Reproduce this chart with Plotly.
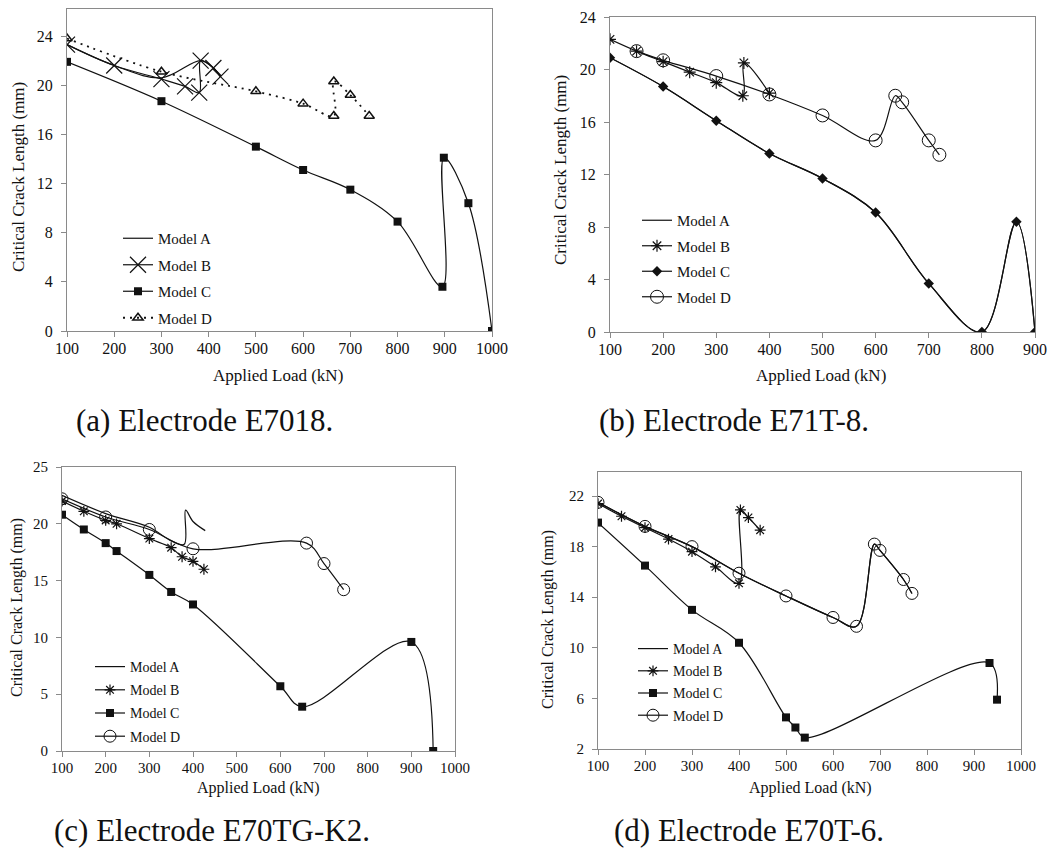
import plotly.graph_objects as go

FIG_W, FIG_H = 1057, 851
SERIF = "Liberation Serif"
INK = "#111111"
FRAME = "#8a8a8a"

# ---------------- (a) Electrode E7018 ----------------
a_load_A = [100, 200, 300, 383, 410, 425]
a_crack_A = [23.3, 21.6, 20.6, 22.0, 21.4, 20.7]
a_load_B = [100, 200, 300, 350, 380, 383, 410, 425]
a_crack_B = [23.3, 21.6, 20.5, 19.9, 19.4, 22.0, 21.4, 20.7]
a_load_C = [100, 300, 500, 600, 700, 800, 895, 898, 950, 1000]
a_crack_C = [21.9, 18.7, 15.0, 13.1, 11.5, 8.9, 3.6, 14.1, 10.4, 0.0]
a_load_D = [100, 300, 500, 600, 665, 665, 700, 740]
a_crack_D = [23.8, 21.1, 19.5, 18.5, 17.5, 20.3, 19.2, 17.5]

# ---------------- (b) Electrode E71T-8 ----------------
b_load_C = [100, 200, 300, 400, 500, 600, 700, 800, 865, 900]
b_crack_C = [20.9, 18.7, 16.1, 13.6, 11.7, 9.1, 3.7, 0.0, 8.4, 0.0]
b_load_A = b_load_C
b_crack_A = b_crack_C
b_load_B = [100, 150, 200, 250, 300, 350, 352, 400]
b_crack_B = [22.3, 21.4, 20.6, 19.8, 19.0, 18.0, 20.5, 18.2]
b_load_D = [150, 200, 300, 400, 500, 600, 637, 650, 700, 720]
b_crack_D = [21.4, 20.7, 19.5, 18.1, 16.5, 14.6, 18.0, 17.5, 14.6, 13.5]

# ---------------- (c) Electrode E70TG-K2 ----------------
c_load_A = [100, 200, 300, 350, 380, 383, 400, 428]
c_crack_A = [22.5, 20.9, 19.7, 18.5, 18.2, 21.2, 20.2, 19.4]
c_load_B = [100, 150, 200, 225, 300, 350, 375, 400, 425]
c_crack_B = [22.0, 21.1, 20.3, 20.0, 18.7, 17.9, 17.1, 16.7, 16.0]
c_load_C = [100, 150, 200, 225, 300, 350, 400, 600, 650, 900, 950]
c_crack_C = [20.8, 19.5, 18.3, 17.6, 15.5, 14.0, 12.9, 5.7, 3.9, 9.6, 0.0]
c_load_D = [100, 200, 300, 400, 660, 700, 745]
c_crack_D = [22.2, 20.6, 19.5, 17.8, 18.3, 16.5, 14.2]

# ---------------- (d) Electrode E70T-6 ----------------
d_load_B = [100, 150, 200, 250, 300, 350, 400, 403, 420, 445]
d_crack_B = [21.4, 20.4, 19.5, 18.6, 17.6, 16.4, 15.1, 20.9, 20.3, 19.3]
d_load_C = [100, 200, 300, 400, 500, 520, 540, 933, 949]
d_crack_C = [19.9, 16.5, 13.0, 10.4, 4.5, 3.7, 2.9, 8.8, 5.9]
d_load_D = [100, 200, 300, 400, 500, 600, 650, 688, 700, 750, 768]
d_crack_D = [21.5, 19.6, 18.0, 15.9, 14.1, 12.4, 11.7, 18.2, 17.7, 15.4, 14.3]
d_load_A = d_load_D
d_crack_A = d_crack_D

model_names = ["Model A", "Model B", "Model C", "Model D"]
captions = ["(a) Electrode E7018.", "(b) Electrode E71T-8.",
            "(c) Electrode E70TG-K2.", "(d) Electrode E70T-6."]
x_title = "Applied Load (kN)"
y_title = "Critical Crack Length (mm)"


def px_x(p):
    return p / FIG_W


def px_y(p):
    return 1 - p / FIG_H


def line_only():
    return dict(mode="lines", line=dict(color=INK, width=1.2, shape="spline"))


def with_marker(symbol, size, lw=1.0, dash="solid", line_width=1.2):
    return dict(mode="lines+markers",
                line=dict(color=INK, width=line_width, shape="spline", dash=dash),
                marker=dict(symbol=symbol, size=size, color=INK,
                            line=dict(color=INK, width=lw)))


panels = [
    dict(series=[(a_load_A, a_crack_A, line_only()),
                 (a_load_B, a_crack_B, with_marker("x-thin-open", 16, 1.2)),
                 (a_load_C, a_crack_C, with_marker("square", 8, 0)),
                 (a_load_D, a_crack_D, with_marker("triangle-up-open", 9, 1.5,
                                                   dash="2px,5px", line_width=1.8))],
         xpx=(67, 492), ypx=(9, 331), xr=[100, 1000], yr=[0, 26.2], y0=0, dy=4,
         tick_fs=16, title_fs=17, leg_fs=15, leg=(118, 222), gap=4,
         ytitle=(18, 177), xtitle=(278, 375), cap=(204, 421)),
    dict(series=[(b_load_A, b_crack_A, line_only()),
                 (b_load_B, b_crack_B, with_marker("asterisk-open", 10, 1.2)),
                 (b_load_C, b_crack_C, with_marker("diamond", 8, 0)),
                 (b_load_D, b_crack_D, with_marker("circle-open", 13, 1.0))],
         xpx=(610, 1035), ypx=(17, 332), xr=[100, 900], yr=[0, 24], y0=0, dy=4,
         tick_fs=16, title_fs=17, leg_fs=15, leg=(637, 204), gap=3,
         ytitle=(560, 170), xtitle=(821, 375), cap=(734, 421)),
    dict(series=[(c_load_A, c_crack_A, line_only()),
                 (c_load_B, c_crack_B, with_marker("asterisk-open", 9, 1.2)),
                 (c_load_C, c_crack_C, with_marker("square", 8, 0)),
                 (c_load_D, c_crack_D, with_marker("circle-open", 12, 1.0))],
         xpx=(62, 455), ypx=(467, 751), xr=[100, 1000], yr=[0, 25], y0=0, dy=5,
         tick_fs=15, title_fs=16, leg_fs=14, leg=(90, 651), gap=2,
         ytitle=(17, 608), xtitle=(258, 788), cap=(212, 830)),
    dict(series=[(d_load_A, d_crack_A, line_only()),
                 (d_load_B, d_crack_B, with_marker("asterisk-open", 9, 1.2)),
                 (d_load_C, d_crack_C, with_marker("square", 8, 0)),
                 (d_load_D, d_crack_D, with_marker("circle-open", 12, 1.0))],
         xpx=(598, 1021), ypx=(472, 749), xr=[100, 1000], yr=[2, 23.9], y0=2, dy=4,
         tick_fs=15, title_fs=16, leg_fs=14, leg=(633, 633), gap=1,
         ytitle=(548, 620), xtitle=(810, 788), cap=(749, 830)),
]

fig = go.Figure()
layout = dict(width=FIG_W, height=FIG_H, margin=dict(l=0, r=0, t=0, b=0),
              paper_bgcolor="white", plot_bgcolor="white", annotations=[])

for i, p in enumerate(panels, start=1):
    sfx = "" if i == 1 else str(i)
    xref, yref, legref = "x" + sfx, "y" + sfx, "legend" + sfx
    for j, (xs, ys, style) in enumerate(p["series"]):
        fig.add_trace(go.Scatter(x=xs, y=ys, name=model_names[j], xaxis=xref, yaxis=yref,
                                 legend=legref, legendgroup=f"{i}-{j}", showlegend=True,
                                 **style))
    axis_common = dict(showline=True, linecolor=FRAME, linewidth=1, mirror=True,
                       showgrid=False, zeroline=False, ticks="outside", ticklen=5,
                       tickcolor=FRAME, tickwidth=1, automargin=False,
                       tickfont=dict(family=SERIF, size=p["tick_fs"], color=INK))
    layout["xaxis" + sfx] = dict(domain=[px_x(p["xpx"][0]), px_x(p["xpx"][1])],
                                 range=p["xr"], tickmode="linear", tick0=100, dtick=100,
                                 anchor=yref, ticklabelstandoff=-2, **axis_common)
    layout["yaxis" + sfx] = dict(domain=[px_y(p["ypx"][1]), px_y(p["ypx"][0])],
                                 range=p["yr"], tickmode="linear", tick0=p["y0"], dtick=p["dy"],
                                 anchor=xref, ticklabelstandoff=5, **axis_common)
    layout[legref] = dict(x=px_x(p["leg"][0]), y=px_y(p["leg"][1]), xanchor="left",
                          yanchor="top", bgcolor="rgba(0,0,0,0)", borderwidth=0,
                          tracegroupgap=p["gap"], itemclick=False,
                          font=dict(family=SERIF, size=p["leg_fs"], color=INK))
    layout["annotations"] += [
        dict(text=y_title, textangle=-90, x=px_x(p["ytitle"][0]), y=px_y(p["ytitle"][1]),
             xref="paper", yref="paper", xanchor="center", yanchor="middle", showarrow=False,
             font=dict(family=SERIF, size=p["title_fs"], color=INK)),
        dict(text=x_title, x=px_x(p["xtitle"][0]), y=px_y(p["xtitle"][1]),
             xref="paper", yref="paper", xanchor="center", yanchor="middle", showarrow=False,
             font=dict(family=SERIF, size=p["title_fs"], color=INK)),
        dict(text=captions[i - 1], x=px_x(p["cap"][0]), y=px_y(p["cap"][1]),
             xref="paper", yref="paper", xanchor="center", yanchor="middle", showarrow=False,
             font=dict(family=SERIF, size=31, color=INK)),
    ]

fig.update_layout(**layout)
fig.write_html("out.html")
